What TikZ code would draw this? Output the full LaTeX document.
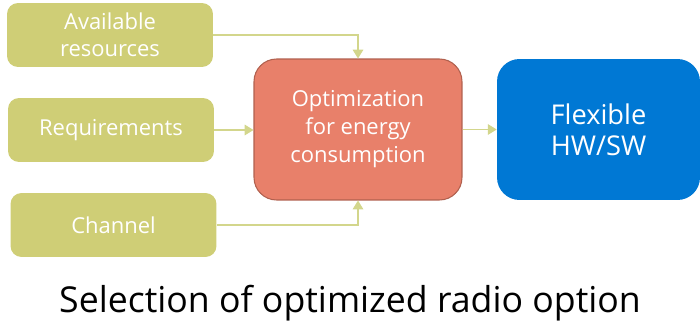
\documentclass[tikz,border=0pt]{standalone}
\usepackage{fontspec}
\setmainfont{Open Sans}
\usepackage{tikz}
\usetikzlibrary{positioning,calc,arrows.meta}
\usepackage{xcolor}
\definecolor{inputgreen}{HTML}{CFCE76}
\definecolor{optred}{HTML}{E8806A}
\definecolor{optborder}{HTML}{B0604E}
\definecolor{flexblue}{HTML}{0078D4}
\definecolor{linkgreen}{HTML}{D3D68C}

\tikzset{
  inbox/.style={rectangle,rounded corners=0.22cm,fill=inputgreen,text=white,
    minimum width=4.12cm,minimum height=1.28cm,align=center,font=\fontsize{12.5}{15.3}\selectfont},
  optbox/.style={rectangle,rounded corners=0.45cm,fill=optred,draw=optborder,line width=0.6pt,
    text=white,minimum width=4.16cm,minimum height=2.82cm,align=center,font=\fontsize{12.5}{15.9}\selectfont},
  flexbox/.style={rectangle,rounded corners=0.45cm,fill=flexblue,text=white,
    minimum width=4.06cm,minimum height=2.82cm,align=center,font=\fontsize{15.5}{17.6}\selectfont},
  link/.style={draw=linkgreen,line width=0.7pt,-{Triangle[length=5pt,width=6pt]}}
}

\begin{document}
\begin{tikzpicture}[x=0.02cm,y=-0.02cm]
\useasboundingbox (0,0) rectangle (700,328);
% inputs on the left
\node[inbox] (avail) at (110,35) {Available\\resources};
\node[inbox] (req) at (111,130) {Requirements};
\node[inbox] (chan) at (113.5,225) {Channel};
% optimization block and result
\node[optbox] (opt) at (358,129.5) {Optimization\\for energy\\consumption};
\node[flexbox] (flex) at (598.5,129.5) {Flexible\\HW/SW};
% connectors
\draw[link] (avail.east) -| (opt.north);
\draw[link] (req.east) -- (req.east -| opt.west);
\draw[link] (chan.east) -| (opt.south);
\draw[link] (opt.east) -- (flex.west);
% caption
\node (caption) at (350,303) {\fontsize{20.3}{23}\selectfont Selection of optimized radio option};
\end{tikzpicture}
\end{document}
